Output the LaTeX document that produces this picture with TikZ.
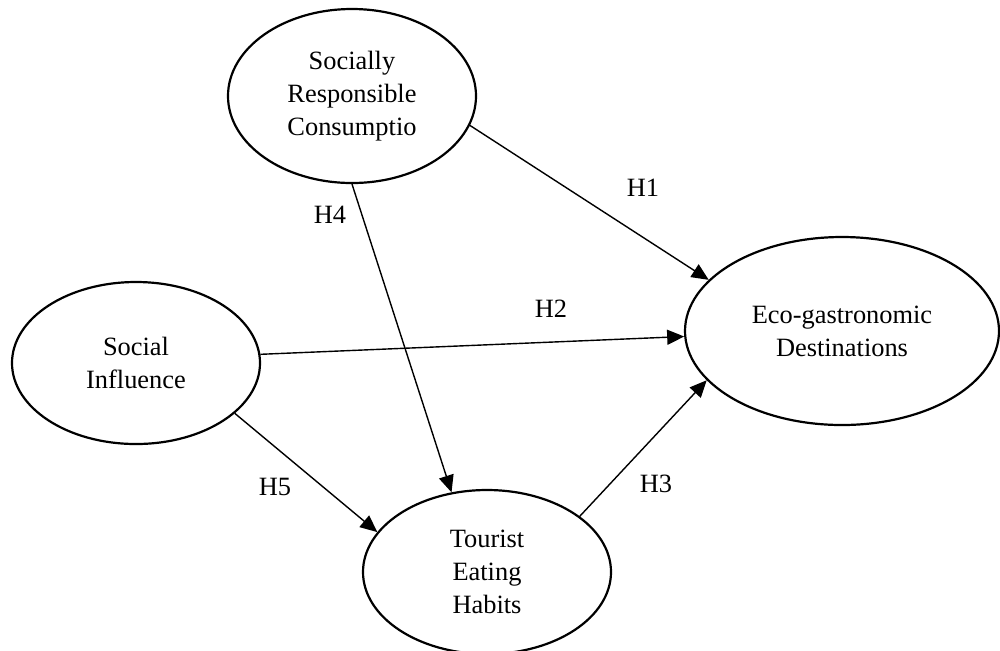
\documentclass[tikz,border=0pt]{standalone}
\usepackage{fontspec}
\setmainfont{Liberation Serif}
\usetikzlibrary{shapes.geometric,arrows.meta}
\begin{document}
\begin{tikzpicture}[x=0.5pt,y=-0.5pt,
  construct/.style={draw=black,line width=1.1pt,ellipse,inner sep=0pt,align=center,
    font=\fontsize{13.2}{16.5}\selectfont},
  hyp/.style={font=\fontsize{13.2}{16}\selectfont,inner sep=0pt},
  link/.style={line width=0.7pt,-{Triangle[length=8.5pt,width=7.5pt]}}]
\useasboundingbox (0,0) rectangle (1000,650);
\node[construct,minimum width=124pt,minimum height=87pt] (src) at (352,96) {Socially\\Responsible\\Consumptio};
\node[construct,minimum width=124pt,minimum height=81pt] (si) at (136,363) {Social\\Influence};
\node[construct,minimum width=157pt,minimum height=94pt] (eco) at (842,331) {Eco-gastronomic\\Destinations};
\node[construct,minimum width=124pt,minimum height=82pt] (teh) at (487,572) {Tourist\\Eating\\Habits};
\draw[link] (src.-14) -- (eco.159);
\draw[link] (si.4.6) -- (eco.182);
\draw[link] (teh.31) -- (eco.200.8);
\draw[link] (src.270) -- (teh.114.8);
\draw[link] (si.-27.3) -- (teh.160.5);
\node[hyp] (h1) at (643,188) {H1};
\node[hyp] (h2) at (551,309) {H2};
\node[hyp] (h3) at (656,484) {H3};
\node[hyp] (h4) at (330,215) {H4};
\node[hyp] (h5) at (275,487) {H5};
\end{tikzpicture}
\end{document}
